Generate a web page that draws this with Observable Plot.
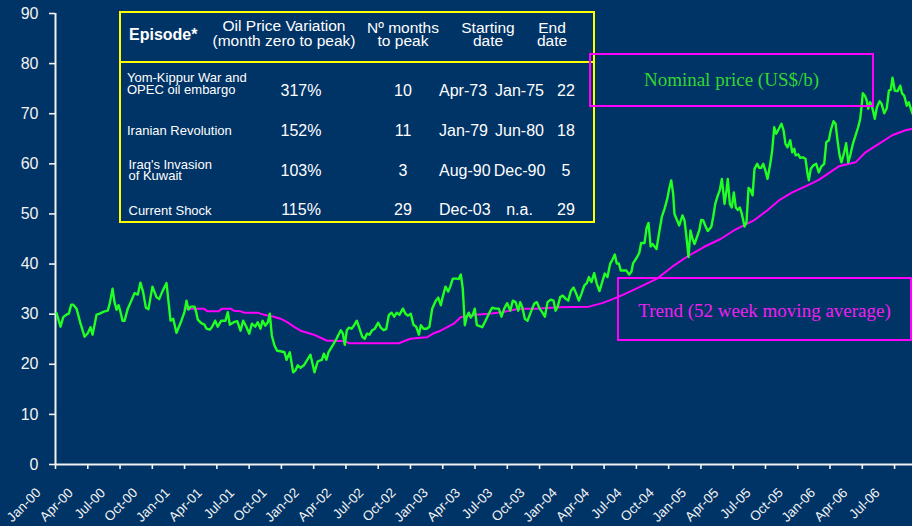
<!DOCTYPE html>
<html><head><meta charset="utf-8">
<script src="https://cdn.jsdelivr.net/npm/d3@7"></script>
<script src="https://cdn.jsdelivr.net/npm/@observablehq/plot@0.6"></script>
<style>
html,body{margin:0;padding:0;background:#003366;}
#chart{width:912px;height:526px;overflow:hidden;}
</style></head><body><div id="chart"></div>
<script>
// ---- Data (decimal years, US$/barrel) ----
const priceDates = [2000.008,2000.039,2000.060,2000.085,2000.103,2000.122,2000.137,2000.163,2000.194,2000.225,2000.250,2000.271,2000.287,2000.318,2000.343,2000.374,2000.405,2000.421,2000.442,2000.457,2000.473,2000.488,2000.504,2000.519,2000.535,2000.560,2000.591,2000.612,2000.638,2000.658,2000.679,2000.700,2000.720,2000.751,2000.782,2000.803,2000.829,2000.860,2000.891,2000.912,2000.937,2000.974,2000.999,2001.015,2001.030,2001.046,2001.077,2001.092,2001.102,2001.129,2001.154,2001.170,2001.195,2001.211,2001.237,2001.257,2001.284,2001.317,2001.335,2001.350,2001.381,2001.408,2001.433,2001.454,2001.480,2001.501,2001.521,2001.547,2001.567,2001.588,2001.604,2001.625,2001.645,2001.660,2001.676,2001.697,2001.717,2001.743,2001.774,2001.790,2001.815,2001.841,2001.859,2001.877,2001.898,2001.924,2001.955,2001.975,2002.006,2002.032,2002.063,2002.079,2002.099,2002.115,2002.146,2002.177,2002.210,2002.226,2002.241,2002.257,2002.272,2002.293,2002.314,2002.334,2002.355,2002.376,2002.396,2002.412,2002.433,2002.453,2002.474,2002.500,2002.520,2002.541,2002.562,2002.582,2002.603,2002.624,2002.644,2002.665,2002.691,2002.711,2002.732,2002.752,2002.773,2002.794,2002.815,2002.830,2002.851,2002.876,2002.897,2002.918,2002.944,2002.965,2002.985,2003.000,2003.021,2003.042,2003.058,2003.078,2003.104,2003.124,2003.140,2003.155,2003.171,2003.186,2003.202,2003.217,2003.233,2003.248,2003.264,2003.306,2003.331,2003.357,2003.383,2003.409,2003.434,2003.455,2003.476,2003.499,2003.523,2003.543,2003.564,2003.585,2003.600,2003.616,2003.636,2003.657,2003.682,2003.709,2003.729,2003.750,2003.770,2003.791,2003.812,2003.837,2003.858,2003.874,2003.889,2003.910,2003.930,2003.951,2003.972,2003.992,2004.013,2004.034,2004.054,2004.075,2004.096,2004.116,2004.132,2004.152,2004.173,2004.193,2004.214,2004.235,2004.255,2004.276,2004.297,2004.313,2004.333,2004.348,2004.364,2004.379,2004.393,2004.423,2004.444,2004.462,2004.475,2004.501,2004.522,2004.537,2004.563,2004.579,2004.594,2004.610,2004.625,2004.656,2004.677,2004.697,2004.718,2004.739,2004.754,2004.770,2004.785,2004.795,2004.811,2004.832,2004.857,2004.873,2004.888,2004.904,2004.919,2004.935,2004.950,2004.971,2004.987,2005.002,2005.018,2005.038,2005.053,2005.080,2005.095,2005.111,2005.131,2005.146,2005.162,2005.183,2005.198,2005.208,2005.224,2005.239,2005.255,2005.270,2005.286,2005.301,2005.317,2005.338,2005.353,2005.369,2005.384,2005.400,2005.415,2005.436,2005.452,2005.467,2005.483,2005.498,2005.516,2005.537,2005.552,2005.568,2005.583,2005.604,2005.624,2005.640,2005.655,2005.671,2005.692,2005.707,2005.723,2005.733,2005.754,2005.769,2005.789,2005.810,2005.826,2005.836,2005.851,2005.872,2005.893,2005.913,2005.934,2005.955,2005.971,2005.991,2006.006,2006.027,2006.043,2006.058,2006.074,2006.089,2006.110,2006.125,2006.141,2006.157,2006.177,2006.198,2006.218,2006.234,2006.244,2006.254,2006.270,2006.285,2006.296,2006.311,2006.327,2006.347,2006.363,2006.384,2006.399,2006.420,2006.440,2006.456,2006.471,2006.484,2006.502,2006.523,2006.544,2006.559,2006.575,2006.595,2006.610,2006.626,2006.639];
const priceValues = [30.2,27.5,29.4,29.9,30.1,31.9,31.9,31.1,28.1,25.5,26.2,27.4,25.9,29.9,30.1,30.5,30.7,32.2,35.1,32.4,30.9,31.8,30.4,28.7,28.7,31.1,32.9,34.2,33.9,36.3,34.4,31.3,31.0,35.5,33.4,33.0,34.6,36.2,28.7,29.1,26.3,28.6,30.4,32.7,30.9,31.5,31.5,30.2,28.9,28.2,27.9,27.1,26.9,27.4,28.7,27.5,28.7,28.7,30.4,27.9,28.4,28.6,26.7,28.7,27.4,26.1,28.1,27.5,28.4,27.1,28.7,27.7,28.4,30.1,25.7,23.7,22.7,22.6,22.4,20.9,22.4,18.4,18.8,19.8,19.3,19.8,21.1,21.9,18.4,20.6,20.9,22.1,20.9,22.4,23.7,25.1,26.8,26.1,23.9,26.8,27.3,27.1,27.8,28.7,27.1,25.5,25.1,26.1,25.9,26.8,27.1,28.3,27.3,26.8,27.0,29.8,30.3,29.5,30.3,29.9,31.1,30.1,29.7,30.1,27.9,27.5,25.9,27.8,27.1,27.1,27.5,31.1,32.6,33.3,31.8,33.5,35.5,34.5,35.5,37.1,37.1,37.0,37.9,35.1,27.8,29.5,30.3,29.3,29.9,31.1,27.8,27.4,28.7,30.1,31.3,31.1,31.1,29.5,31.1,32.2,30.7,32.7,32.4,30.7,32.4,31.4,29.1,28.7,30.4,32.1,32.4,31.1,30.4,29.5,32.4,32.9,32.7,30.7,31.4,33.4,33.7,33.1,32.7,34.6,35.3,34.1,32.7,34.1,35.7,36.2,37.4,36.4,38.2,36.1,34.6,36.4,38.1,37.4,40.1,40.8,41.9,40.1,40.1,38.7,38.7,38.7,37.9,38.5,40.2,41.2,42.2,44.2,44.2,47.2,48.2,43.5,44.0,43.0,46.4,49.4,51.0,53.0,55.0,56.7,54.0,50.0,49.0,47.7,49.7,48.7,45.4,41.4,46.7,45.0,44.0,45.5,46.7,48.8,48.7,47.4,46.6,47.4,49.4,52.0,53.7,54.7,57.0,52.0,54.7,57.0,52.0,51.3,54.3,51.3,50.8,51.3,50.0,47.5,48.4,55.2,54.8,53.7,59.0,60.0,59.2,59.2,60.0,58.8,57.0,60.0,62.7,67.3,66.0,67.0,68.0,66.7,64.0,63.3,64.7,62.3,63.0,61.7,61.9,61.2,61.3,61.0,58.0,56.7,59.0,59.7,60.0,58.3,59.5,60.0,64.3,64.7,66.7,68.5,68.0,64.7,61.7,60.3,62.3,64.1,60.3,61.7,64.0,65.7,67.3,69.0,71.3,74.1,73.6,72.6,71.0,72.3,71.3,69.0,71.3,72.5,72.0,70.1,71.1,74.6,74.8,77.2,74.6,74.5,75.6,74.0,73.6,71.6,72.3,71.0,70.0];
const trendDates = [2000.999,2001.149,2001.175,2001.265,2001.291,2001.356,2001.381,2001.433,2001.459,2001.563,2001.614,2001.691,2001.743,2001.795,2001.846,2001.898,2001.950,2002.001,2002.053,2002.105,2002.156,2002.247,2002.272,2002.660,2002.698,2002.750,2002.828,2002.880,2002.931,2002.983,2003.035,2003.086,2003.138,2003.254,2003.357,2003.461,2003.589,2003.719,2003.899,2004.132,2004.235,2004.287,2004.364,2004.416,2004.532,2004.661,2004.790,2004.894,2005.022,2005.152,2005.255,2005.332,2005.410,2005.513,2005.604,2005.707,2005.810,2005.913,2006.068,2006.198,2006.275,2006.378,2006.482,2006.585,2006.639];
const trendValues = [31.1,31.1,30.6,30.6,31.1,31.1,30.7,30.6,30.3,30.3,29.9,29.5,29.1,28.4,27.5,26.7,26.3,25.9,25.3,24.7,24.7,24.6,24.2,24.2,24.6,25.1,25.3,25.4,26.2,26.7,27.4,28.1,29.4,29.9,30.1,30.4,31.1,31.1,31.4,31.5,32.2,32.7,33.5,34.1,35.5,37.1,39.7,41.5,43.4,45.0,46.7,47.7,48.7,50.7,52.7,54.3,55.5,56.8,59.5,60.3,62.3,64.0,65.7,66.7,67.0];
const yTicks = [0,10,20,30,40,50,60,70,80,90];
const xTickLabels = ["Jan-00","Apr-00","Jul-00","Oct-00","Jan-01","Apr-01","Jul-01","Oct-01","Jan-02","Apr-02","Jul-02","Oct-02","Jan-03","Apr-03","Jul-03","Oct-03","Jan-04","Apr-04","Jul-04","Oct-04","Jan-05","Apr-05","Jul-05","Oct-05","Jan-06","Apr-06","Jul-06"];
const xTicks = xTickLabels.map((_, i) => 2000 + i / 4);

// ---- Table ----
const tableHeader = [["Episode*"],["Oil Price Variation","(month zero to peak)"],["Nº months","to peak"],["Starting","date"],["End","date"]];
const episodes = [["Yom-Kippur War and","OPEC oil embargo"],["Iranian Revolution"],["Iraq's Invasion","of Kuwait"],["Current Shock"]];
const variation = ["317%","152%","103%","115%"];
const monthsToPeak = ["10","11","3","29"];
const startDates = ["Apr-73","Jan-79","Aug-90","Dec-03"];
const endDates = ["Jan-75","Jun-80","Dec-90","n.a."];
const durations = ["22","18","5","29"];
const seriesLabels = ["Nominal price (US$/b)","Trend (52 week moving average)"];

const price = priceDates.map((d, i) => ({t: d, v: priceValues[i]}));
const trend = trendDates.map((d, i) => ({t: d, v: trendValues[i]}));

const WHITE = "#f2f2f2", GREEN = "#22ff22", MAGENTA = "#ff00ff", YELLOW = "#ffff00";

const chart = Plot.plot({
  width: 912, height: 526,
  marginTop: 13, marginBottom: 62, marginLeft: 55, marginRight: 0,
  style: {background: "#003366", color: WHITE, fontFamily: "'Liberation Sans', Arial, sans-serif", fontSize: "16px", overflow: "visible"},
  x: {type: "linear", domain: [2000, 2006.639]},
  y: {domain: [0, 90]},
  marks: [
    Plot.axisY(yTicks, {tickSize: 6, tickPadding: 11, label: null, fontSize: 16, strokeWidth: 1.6, tickFormat: d => String(d)}),
    Plot.axisX(xTicks, {tickSize: 5, label: null, strokeWidth: 1.6, tickFormat: () => ""}),
    Plot.ruleX([2000], {stroke: WHITE, strokeWidth: 2}),
    Plot.ruleY([0], {stroke: WHITE, strokeWidth: 2}),
    Plot.text(xTicks, {x: d => d, frameAnchor: "bottom", lineAnchor: "middle", text: (d, i) => xTickLabels[i], rotate: -45, textAnchor: "end", dx: -17, dy: 26, fill: WHITE, fontSize: 13.5, letterSpacing: -0.5}),
    Plot.line(trend, {x: "t", y: "v", stroke: MAGENTA, strokeWidth: 2}),
    Plot.line(price, {x: "t", y: "v", stroke: GREEN, strokeWidth: 2.4})
  ]
});
document.getElementById("chart").appendChild(chart);

// ---- Annotations: episode table and series label boxes ----
const svg = d3.select(chart);
const g = svg.append("g").attr("font-family", "'Liberation Sans', Arial, sans-serif").attr("fill", "#ffffff");
g.append("rect").attr("x", 120).attr("y", 12).attr("width", 474).attr("height", 210)
  .attr("fill", "none").attr("stroke", YELLOW).attr("stroke-width", 2);
g.append("line").attr("x1", 120).attr("x2", 594).attr("y1", 62).attr("y2", 62)
  .attr("stroke", YELLOW).attr("stroke-width", 2);

function txt(s, x, y, size, anchor, weight) {
  g.append("text").attr("x", x).attr("y", y).attr("font-size", size)
    .attr("text-anchor", anchor || "start").attr("font-weight", weight || "normal").text(s);
}
// header
txt(tableHeader[0][0], 129, 40, 16, "start", "bold");
txt(tableHeader[1][0], 284, 31, 15.5, "middle"); txt(tableHeader[1][1], 284, 45.5, 15.5, "middle");
txt(tableHeader[2][0], 403, 32.5, 15.5, "middle"); txt(tableHeader[2][1], 403, 46, 15.5, "middle");
txt(tableHeader[3][0], 488, 32.5, 15.5, "middle"); txt(tableHeader[3][1], 488, 46, 15.5, "middle");
txt(tableHeader[4][0], 552, 32.5, 15.5, "middle"); txt(tableHeader[4][1], 552, 46, 15.5, "middle");
// rows
const rowY = [96, 136, 176, 215];
const nameY = [[82, 93.5], [134.5], [168.5, 179.5], [215]];
const nameX = [127, 127, 128.5, 128.5];
episodes.forEach((lines, i) => {
  lines.forEach((s, j) => txt(s, nameX[i], nameY[i][j], 13, "start"));
  txt(variation[i], 301, rowY[i], 16, "middle");
  txt(monthsToPeak[i], 403, rowY[i], 16, "middle");
  txt(startDates[i], 439, rowY[i], 16, "start");
  txt(endDates[i], 519.5, rowY[i], 16, "middle");
  txt(durations[i], 566, rowY[i], 16, "middle");
});

// label boxes
const lg = svg.append("g").attr("font-family", "'Liberation Serif', 'Times New Roman', serif");
lg.append("rect").attr("x", 590).attr("y", 54).attr("width", 283).attr("height", 52)
  .attr("fill", "none").attr("stroke", MAGENTA).attr("stroke-width", 2);
lg.append("text").attr("x", 731.5).attr("y", 86).attr("text-anchor", "middle").attr("font-size", 19)
  .attr("fill", "#33d633").text(seriesLabels[0]);
lg.append("rect").attr("x", 618).attr("y", 278).attr("width", 293).attr("height", 62)
  .attr("fill", "none").attr("stroke", MAGENTA).attr("stroke-width", 2);
lg.append("text").attr("x", 764.5).attr("y", 317).attr("text-anchor", "middle").attr("font-size", 19)
  .attr("fill", "#f020f0").text(seriesLabels[1]);
</script></body></html>
